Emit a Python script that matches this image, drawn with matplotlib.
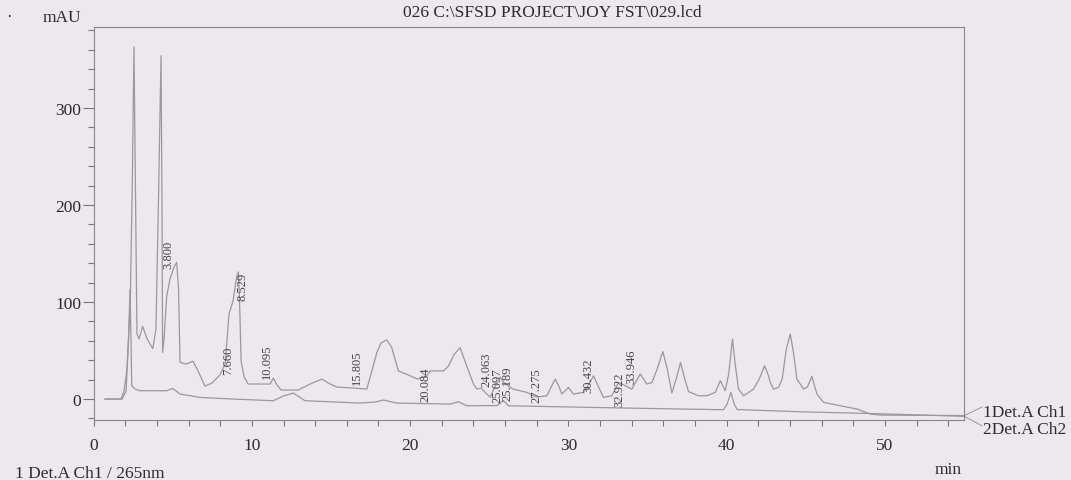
import matplotlib.pyplot as plt
from matplotlib.ticker import MultipleLocator

# --- traces (min, mAU) ---
ch1_t = [0.72, 1.73, 1.92, 2.11, 2.32, 2.45, 2.55, 2.65, 2.74, 2.87, 3.10, 3.38, 3.74, 3.94,
         4.10, 4.26, 4.32, 4.36, 4.45, 4.62, 4.83, 5.08, 5.25, 5.37, 5.46, 5.84, 6.28, 6.60,
         7.04, 7.48, 7.99, 8.31, 8.56, 8.81, 9.05, 9.15, 9.22, 9.32, 9.51, 9.76, 11.15, 11.36,
         11.59, 11.85, 12.92, 13.68, 14.42, 14.94, 15.37, 16.52, 17.26, 17.53, 17.90, 18.17,
         18.53, 18.84, 19.26, 20.00, 20.46, 21.05, 21.26, 22.10, 22.42, 22.78, 23.16, 23.58,
         24.00, 24.22, 24.49, 24.74, 25.06, 25.44, 25.69, 25.94, 26.50, 27.38, 28.00, 28.64,
         28.91, 29.17, 29.42, 29.59, 30.00, 30.32, 30.95, 31.31, 31.59, 31.82, 32.22, 32.75,
         33.17, 33.59, 34.01, 34.54, 34.96, 35.28, 35.61, 35.97, 36.25, 36.54, 36.81, 37.09,
         37.32, 37.59, 38.22, 38.75, 39.28, 39.60, 39.91, 40.13, 40.37, 40.54, 40.75, 41.07,
         41.70, 42.06, 42.40, 42.63, 42.76, 42.96, 43.28, 43.51, 43.77, 44.02, 44.24, 44.44,
         44.86, 45.10, 45.39, 45.54, 45.71, 46.13, 47.18, 48.24, 49.08, 49.71, 55.02]
ch1_y = [0, 0, 8.2, 30.9, 103, 227, 363, 206, 67, 62, 75, 62, 52, 72,
         206, 354, 206, 48, 62, 106, 124, 136, 141, 113, 38, 36, 39, 29,
         13.4, 16.5, 25, 36, 88, 101, 127, 131, 103, 39, 23, 15.5, 15.5, 21.6,
         14.4, 9.3, 9.3, 15.5, 20.6, 15.5, 12.4, 11.3, 10.3, 25.8, 48, 58,
         61, 53, 29, 24, 20.6, 24, 29, 29, 34, 46, 53, 34,
         15.5, 10.3, 11.3, 6.9, 2, 15.5, 22.7, 16.5, 10.3, 6.9, 2, 3.4,
         12.4, 20.6, 12.4, 5.2, 12, 5.2, 6.9, 15.5, 24, 15.5, 1.7, 3.4,
         17.2, 13.7, 10.3, 25.8, 15.5, 17.2, 31, 49, 31, 6.2, 20.6, 37.8,
         22.7, 7.7, 3.4, 3.4, 6.9, 18.9, 8.6, 25.8, 61.9, 36, 10.3, 3.4,
         10.3, 20.6, 34.3, 24.7, 17.2, 10.3, 12, 20.6, 51.5, 67, 46.4, 20.6,
         10.3, 12.4, 23.4, 14.4, 5.2, -3.4, -6.9, -10.3, -15.5, -16.5, -17.0]

ch2_t = [0.72, 1.80, 2.05, 2.21, 2.30, 2.36, 2.41, 2.62, 2.93, 4.62, 5.00, 5.46, 6.73, 8.83,
         11.36, 11.97, 12.62, 13.36, 16.84, 17.79, 18.31, 19.16, 22.53, 23.05, 23.58, 25.48,
         25.90, 26.21, 32.01, 39.80, 40.03, 40.27, 40.48, 40.67, 44.65, 49.08, 55.02]
ch2_y = [0, 0, 8.2, 62, 113, 62, 13.7, 10.3, 8.6, 8.6, 11, 5.2, 1.7, 0,
         -1.7, 3.1, 6.2, -1.7, -4.1, -3.1, -1, -4.1, -5.2, -2.8, -6.9, -6.7,
         -1.7, -6.9, -8.8, -11, -5.2, 6.9, -5.2, -10.8, -13.1, -14.9, -17.8]

# --- retention time labels ---
pk_text = ['3.800', '7.660', '8.529', '10.095', '15.805', '20.084', '24.063', '25.097',
           '25.189', '27.275', '30.432', '32.922', '33.946']
pk_t = [4.72, 8.52, 9.42, 10.94, 16.63, 20.95, 24.85, 25.50, 26.15, 28.00, 31.27, 33.25, 33.95]
pk_y = [135, 26, 102, 22, 15.5, -1.7, 13.7, -3.4, -1.0, -3.4, 6.9, -6.9, 17.0]

PAPER = '#ebe8ee'
TRACE = '#999999'
INK = '#2b2b2b'
plt.rcParams['font.family'] = ['Liberation Serif', 'DejaVu Serif']

fig = plt.figure(figsize=(10.71, 4.81), dpi=100, facecolor=PAPER)
ax = fig.add_axes([0.0874, 0.1247, 0.8127, 0.817], facecolor=PAPER)

ax.plot(ch1_t, ch1_y, color=TRACE, lw=0.9)
ax.plot(ch2_t, ch2_y, color=TRACE, lw=0.9)

for txt, t, y in zip(pk_text, pk_t, pk_y):
    ax.text(t, y, txt, rotation=90, ha='center', va='bottom', fontsize=9, color='#444444')

ax.set_xlim(0, 55)
ax.set_ylim(-21.6, 383.5)
ax.xaxis.set_major_locator(MultipleLocator(10))
ax.xaxis.set_minor_locator(MultipleLocator(2))
ax.yaxis.set_major_locator(MultipleLocator(100))
ax.yaxis.set_minor_locator(MultipleLocator(20))
ax.tick_params(which='both', direction='out', color='#777777', width=0.8,
               labelsize=12.5, labelcolor=INK)
ax.tick_params(axis='y', which='major', length=8, pad=1)
ax.tick_params(axis='y', which='minor', length=4.5)
ax.tick_params(axis='x', which='major', length=4, pad=8)
ax.tick_params(axis='x', which='minor', length=4)
for s in ax.spines.values():
    s.set_color('#888888')
    s.set_linewidth(0.8)

# channel tags on the right
ax.plot([55.02, 56.14], [-17.0, -8.2], color=TRACE, lw=0.7, clip_on=False)
ax.plot([55.02, 56.14], [-17.8, -27.5], color=TRACE, lw=0.7, clip_on=False)
fig.text(0.918, 0.141, '1Det.A Ch1', fontsize=12.5, color=INK, va='center')
fig.text(0.918, 0.107, '2Det.A Ch2', fontsize=12.5, color=INK, va='center')

fig.text(0.516, 0.972, '026 C:\\SFSD PROJECT\\JOY FST\\029.lcd', fontsize=12.5,
         color=INK, ha='center', va='center')
fig.text(0.058, 0.963, 'mAU', fontsize=12.5, color=INK, ha='center', va='center')
fig.text(0.008, 0.963, '·', fontsize=12, color=INK, ha='center', va='center')
fig.text(0.873, 0.023, 'min', fontsize=12.5, color=INK, ha='left', va='center')
fig.text(0.014, 0.014, '1 Det.A Ch1 / 265nm', fontsize=12.5, color=INK, ha='left', va='center')

fig.savefig('out.png', dpi=100, facecolor=PAPER)
